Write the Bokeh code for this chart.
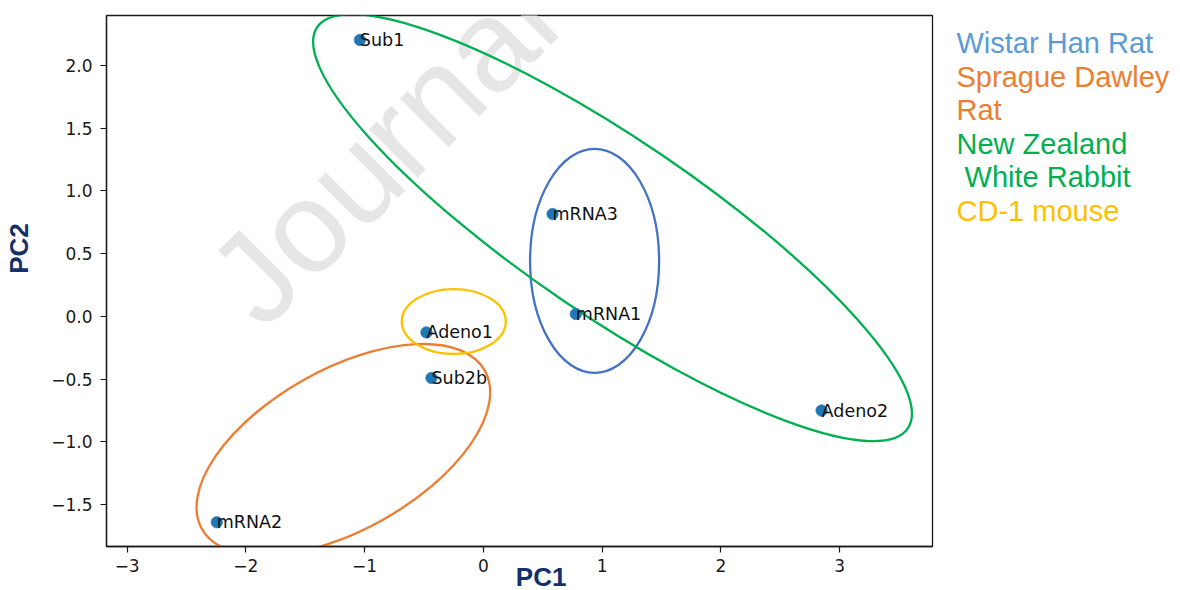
import math

from bokeh.core.properties import value
from bokeh.embed import file_html
from bokeh.layouts import row
from bokeh.models import ColumnDataSource, CustomJSTickFormatter, FixedTicker, Label, Range1d
from bokeh.plotting import figure
from bokeh.resources import INLINE

# PCA scores of the seven formulations
sample_names = ["Sub1", "mRNA3", "mRNA1", "Adeno1", "Sub2b", "mRNA2", "Adeno2"]
pc1_scores = [-1.040, 0.583, 0.779, -0.479, -0.437, -2.245, 2.849]
pc2_scores = [2.204, 0.816, 0.019, -0.128, -0.491, -1.642, -0.751]

# species groupings drawn as ellipses (centre, full width/height, tilt in degrees)
group_names = ["Wistar Han Rat", "Sprague Dawley Rat", "New Zealand White Rabbit", "CD-1 mouse"]
group_colors = ["#4472C4", "#ED7D31", "#00B050", "#FFC000"]
group_cx = [0.937, -1.179, 1.088, -0.249]
group_cy = [0.442, -1.064, 0.707, -0.041]
group_w = [1.087, 2.731, 6.014, 0.876]
group_h = [1.786, 1.282, 1.403, 0.518]
group_tilt = [0.0, 29.25, -34.2, 0.0]

# species key, one entry per printed line
legend_lines = ["Wistar Han Rat", "Sprague Dawley", "Rat", "New Zealand", "\u00a0White Rabbit", "CD-1 mouse"]
legend_colors = ["#5B9BD5", "#ED7D31", "#ED7D31", "#00B050", "#00B050", "#FFC000"]

x_ticks = [-3, -2, -1, 0, 1, 2, 3]
y_ticks = [-1.5, -1.0, -0.5, 0.0, 0.5, 1.0, 1.5, 2.0]

# geometry (pixels)
H = 590
FL, FR, FT, FB = 106, 932, 15, 546
X0, X1 = -3.174, 3.783
Y0, Y1 = -1.835, 2.399
MAIN_W = FR + 2
KEY_W = 1180 - MAIN_W
NAVY = "#14306A"
NBSP = "\u00a0"


def px_to_x(px):
    return X0 + (px - FL) / (FR - FL) * (X1 - X0)


def py_to_y(py):
    return Y1 - (py - FT) / (FB - FT) * (Y1 - Y0)


p = figure(
    frame_width=FR - FL, frame_height=FB - FT,
    x_range=Range1d(X0, X1), y_range=Range1d(Y0, Y1),
    output_backend="svg", toolbar_location=None,
    min_border_left=FL, min_border_right=MAIN_W - FR,
    min_border_top=FT, min_border_bottom=0,
    background_fill_color="white", border_fill_color="white",
)
p.outline_line_color = "#1a1a1a"
p.outline_line_width = 1.3
p.xgrid.visible = False
p.ygrid.visible = False

for ax, ticks, fmt in ((p.xaxis[0], x_ticks, 0), (p.yaxis[0], y_ticks, 1)):
    ax.ticker = FixedTicker(ticks=ticks)
    ax.formatter = CustomJSTickFormatter(
        code="return tick.toFixed(%d).replace('-', '\\u2212');" % fmt)
    ax.major_tick_in = 0
    ax.major_tick_out = 6
    ax.minor_tick_line_color = None
    ax.axis_line_color = "#1a1a1a"
    ax.axis_line_width = 1.3
    ax.major_tick_line_color = "#1a1a1a"
    ax.major_tick_line_width = 1.2
    ax.major_label_text_font = "DejaVu Sans"
    ax.major_label_text_font_size = "17px"
    ax.major_label_text_color = "#1a1a1a"
    ax.axis_label_text_font = "Liberation Sans"
    ax.axis_label_text_font_style = "bold"
    ax.axis_label_text_font_size = "26px"
    ax.axis_label_text_color = NAVY
p.xaxis.major_label_standoff = 6
p.yaxis.major_label_standoff = 8
# titles sit a little off the axis centres
p.xaxis.axis_label = NBSP * 6 + "PC1"
p.yaxis.axis_label = NBSP * 9 + "PC2"
p.xaxis.axis_label_standoff = -13
p.yaxis.axis_label_standoff = 14

# watermark behind the data
p.add_layout(Label(
    x=px_to_x(231), y=py_to_y(300), text="Journal",
    angle=math.radians(45), text_align="left", text_baseline="alphabetic",
    text_font="Liberation Sans", text_font_size="130px", text_color="#e6e6e6",
    level="underlay"))

# group ellipses
ell = ColumnDataSource(dict(
    x=group_cx, y=group_cy, w=group_w, h=group_h,
    a=[math.radians(t) for t in group_tilt], c=group_colors))
p.ellipse(x="x", y="y", width="w", height="h", angle="a", source=ell,
          fill_color=None, line_color="c", line_width=2.3)

# sample points and their names
pts = ColumnDataSource(dict(x=pc1_scores, y=pc2_scores, name=sample_names))
p.scatter(x="x", y="y", source=pts, size=11.5, fill_color="#1f77b4",
          line_color="#1f77b4", line_alpha=0.6)
p.text(x="x", y="y", text="name", source=pts, text_align="left",
       text_baseline="alphabetic", text_font=value("DejaVu Sans"),
       text_font_size="17.5px", text_color="#111111")

# key panel on the right; its frame shares the main frame's rows,
# and y is given as the pixel row from the top of the page
key = figure(frame_width=KEY_W, frame_height=FB - FT,
             x_range=Range1d(0, KEY_W), y_range=Range1d(FB, FT),
             output_backend="svg", toolbar_location=None,
             min_border_left=0, min_border_right=0,
             min_border_top=FT, min_border_bottom=H - FB,
             outline_line_color=None)
key.axis.visible = False
key.grid.visible = False
key_src = ColumnDataSource(dict(
    x=[956 - MAIN_W] * len(legend_lines),
    y=[42.5 + 33.6 * i for i in range(len(legend_lines))],
    t=legend_lines, c=legend_colors))
key.text(x="x", y="y", text="t", text_color="c", source=key_src,
         text_align="left", text_baseline="alphabetic",
         text_font=value("Liberation Sans"), text_font_size="29px")

layout = row(p, key, spacing=0)
open("out.html", "w").write(file_html(layout, INLINE))
